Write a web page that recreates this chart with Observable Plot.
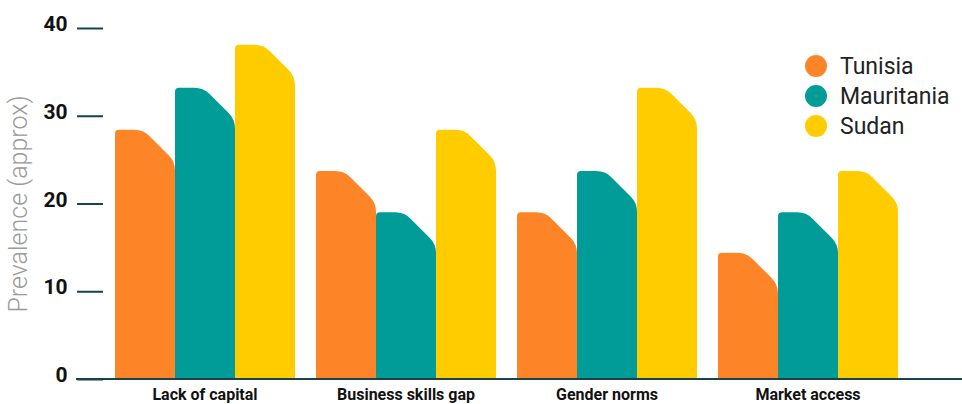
<!DOCTYPE html>
<html>
<head>
<meta charset="utf-8">
<script src="https://cdn.jsdelivr.net/npm/d3@7"></script>
<script src="https://cdn.jsdelivr.net/npm/@observablehq/plot@0.6"></script>
<style>
  html, body { margin: 0; padding: 0; background: #fff; }
  #wrap { position: relative; width: 962px; height: 404px; overflow: hidden; font-family: Roboto, "Noto Sans", sans-serif; }
  #legend { position: absolute; left: 805px; top: 51px; }
  .item { display: flex; align-items: center; height: 30px; }
  .sw { width: 22px; height: 22px; border-radius: 50%; margin-right: 13px; }
  .lab { font-size: 23px; color: #222; font-weight: 400; }
</style>
</head>
<body>
<div id="wrap"></div>
<script>
const categories = ["Lack of capital", "Business skills gap", "Gender norms", "Market access"];
const countries = ["Tunisia", "Mauritania", "Sudan"];
const tunisia = [28.4, 23.7, 19.0, 14.4];
const mauritania = [33.2, 19.0, 23.7, 19.0];
const sudan = [38.1, 28.4, 33.2, 23.7];
const colors = ["#FE8428", "#019C97", "#FFCC00"];
const yTicks = [0, 10, 20, 30, 40];
const yLabel = "Prevalence (approx)";
const axisColor = "#1b414b";

const series = [tunisia, mauritania, sudan];
const data = [];
categories.forEach((c, i) => countries.forEach((k, j) => data.push({category: c, country: k, value: series[j][i]})));

const chart = Plot.plot({
  width: 962,
  height: 404,
  marginLeft: 103,
  marginRight: 54,
  marginTop: 28,
  marginBottom: 25,
  style: {fontFamily: "Roboto, 'Noto Sans', sans-serif", background: "white"},
  fx: {domain: categories, paddingInner: 0.1, paddingOuter: 0.05, label: null},
  x: {domain: countries, axis: null, padding: 0},
  y: {domain: [0, 40]},
  color: {domain: countries, range: colors},
  marks: [
    Plot.barY(data, {fx: "category", x: "country", y: "value", fill: "country"}),
    Plot.axisY(yTicks, {tickSize: 26, dx: -11, text: null, stroke: axisColor, strokeWidth: 2, label: null}),
    Plot.axisY(yTicks, {tickSize: 0, tickPadding: 36, dx: -11, dy: -4, fontSize: 21, fontWeight: 700, fill: "#111", label: null}),
    Plot.axisY([], {label: yLabel, labelAnchor: "center", labelOffset: 105, labelArrow: "none", fontSize: 25, fill: "#9a9a9a", fontWeight: 300, tickSize: 0}),
    Plot.axisFx({anchor: "bottom", tickSize: 0, tickPadding: 9, fontSize: 16, fontWeight: 700, fill: "#111", label: null})
  ]
});

// reshape bar tops: small rounded top-left corner, rounded chamfer on the top-right
chart.querySelectorAll('g[aria-label="bar"] rect').forEach(rect => {
  const x0 = +rect.getAttribute("x"), y0 = +rect.getAttribute("y");
  const w = +rect.getAttribute("width"), h = +rect.getAttribute("height");
  const x1 = x0 + w, y1 = y0 + h;
  const r = 4, c = Math.min(32, w * 0.53, h), k = 9, kk = k * Math.SQRT1_2;
  const d = [
    `M${x0},${y1}`,
    `L${x0},${y0 + r}`,
    `Q${x0},${y0} ${x0 + r},${y0}`,
    `L${x1 - c - k},${y0}`,
    `Q${x1 - c},${y0} ${x1 - c + kk},${y0 + kk}`,
    `L${x1 - kk},${y0 + c - kk}`,
    `Q${x1},${y0 + c} ${x1},${y0 + c + k}`,
    `L${x1},${y1}`,
    "Z"
  ].join(" ");
  const p = document.createElementNS("http://www.w3.org/2000/svg", "path");
  p.setAttribute("d", d);
  p.setAttribute("fill", rect.getAttribute("fill"));
  rect.replaceWith(p);
});

// baseline at y = 0, placed with the plot's own y scale, running from the tick start to the right edge
const y0px = chart.scale("y").apply(0);
const base = document.createElementNS("http://www.w3.org/2000/svg", "line");
base.setAttribute("x1", 103 - 27);
base.setAttribute("x2", 962);
base.setAttribute("y1", y0px);
base.setAttribute("y2", y0px);
base.setAttribute("stroke", axisColor);
base.setAttribute("stroke-width", 2);
chart.appendChild(base);

const wrap = document.getElementById("wrap");
wrap.appendChild(chart);

const legend = document.createElement("div");
legend.id = "legend";
countries.forEach((k, i) => {
  const item = document.createElement("div");
  item.className = "item";
  const sw = document.createElement("span");
  sw.className = "sw";
  sw.style.background = colors[i];
  const lab = document.createElement("span");
  lab.className = "lab";
  lab.textContent = k;
  item.appendChild(sw);
  item.appendChild(lab);
  legend.appendChild(item);
});
wrap.appendChild(legend);
</script>
</body>
</html>
